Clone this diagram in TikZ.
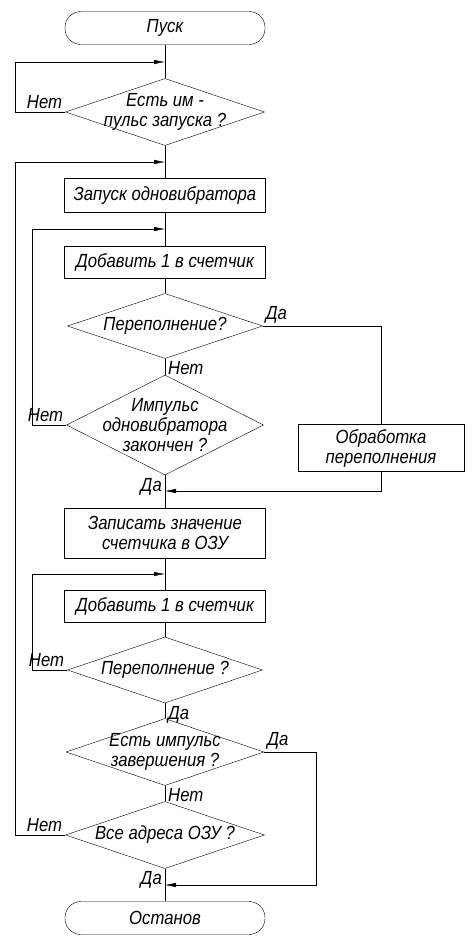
\documentclass[tikz,border=0pt]{standalone}
\usepackage{fontspec}
\setmainfont{Liberation Sans}[FakeStretch=0.88]
\usetikzlibrary{arrows.meta,shapes.geometric}
\tikzset{>={Latex[length=11pt,width=4.5pt]},line width=2.1pt,
  every node/.style={font=\fontsize{19}{20}\selectfont\itshape},
  term/.style={draw,rounded corners=16pt,minimum width=200pt,minimum height=33pt,inner sep=0pt},
  stepbox/.style={draw,minimum width=201pt,inner sep=0pt,align=center},
  test/.style={draw,diamond,aspect=3,inner sep=-25pt,align=center},
  lbl/.style={inner sep=3pt}}

\begin{document}
\begin{tikzpicture}[x=1pt,y=-1pt]
\useasboundingbox (0,0) rectangle (475,943);
% blocks along the main line
\node[term] (start) at (165,28) {Пуск};
\coordinate (j1) at (165,62);
\node[test,minimum width=199pt,minimum height=67pt] (d1) at (165,112) {Есть им -\\пульс запуска ?};
\coordinate (j2) at (165,162);
\node[stepbox,minimum height=34pt] (b1) at (165,195) {Запуск одновибратора};
\coordinate (j3) at (165,229);
\node[stepbox,minimum height=32pt] (b2) at (165,262) {Добавить 1 в счетчик};
\node[test,minimum width=195pt,minimum height=65pt] (d2) at (165,326) {Переполнение?};
\node[test,aspect=2,minimum width=197pt,minimum height=100pt] (d3) at (165,425) {Импульс\\одновибратора\\закончен ?};
\node[stepbox,minimum width=166pt,minimum height=47pt] (ovf) at (381,448) {Обработка\\переполнения};
\coordinate (j4) at (165,491);
\node[stepbox,minimum height=50pt] (b3) at (165,533) {Записать значение\\счетчика в ОЗУ};
\coordinate (j5) at (165,574);
\node[stepbox,minimum height=32pt] (b4) at (165,606) {Добавить 1 в счетчик};
\node[test,minimum width=195pt,minimum height=66pt] (d4) at (165,670) {Переполнение ?};
\node[test,minimum width=198pt,minimum height=67pt] (d5) at (165,752) {Есть импульс\\завершения ?};
\node[test,minimum width=199pt,minimum height=67pt] (d6) at (165,835) {Все адреса ОЗУ ?};
\coordinate (j6) at (165,885);
\node[term] (stop) at (165,918) {Останов};
% side rails
\coordinate (l1) at (15,0);
\coordinate (l2) at (32,0);
\coordinate (r1) at (316,0);
% main line
\draw (start) -- (d1);
\draw (d1) -- (b1);
\draw (b1) -- (b2);
\draw (b2) -- (d2);
\draw (d2) -- (d3);
\draw (d3) -- (b3);
\draw (b3) -- (b4);
\draw (b4) -- (d4);
\draw (d4) -- (d5);
\draw (d5) -- (d6);
\draw (d6) -- (stop);
% loops and branches
\draw[->] (d1.west) -- (d1.west -| l1) |- (j1);
\draw[->] (d6.west) -- (d6.west -| l1) |- (j2);
\draw[->] (d3.west) -- (d3.west -| l2) |- (j3);
\draw[->] (d4.west) -- (d4.west -| l2) |- (j5);
\draw (d2.east) -| (ovf.north);
\draw[->] (ovf.south) |- (j4);
\draw[->] (d5.east) -- (d5.east -| r1) |- (j6);
% branch labels
\node[lbl,above left] (n1) at (d1.west) {Нет};
\node[lbl,above right] (y2) at (d2.east) {Да};
\node[lbl,below right] (n2) at (d2.south) {Нет};
\node[lbl,above left] (n3) at (d3.west) {Нет};
\node[lbl,below left] (y3) at (d3.south) {Да};
\node[lbl,above left] (n4) at (d4.west) {Нет};
\node[lbl,below right] (y4) at (d4.south) {Да};
\node[lbl,above right] (y5) at (d5.east) {Да};
\node[lbl,below right] (n5) at (d5.south) {Нет};
\node[lbl,above left] (n6) at (d6.west) {Нет};
\node[lbl,below left] (y6) at (d6.south) {Да};
\end{tikzpicture}
\end{document}
